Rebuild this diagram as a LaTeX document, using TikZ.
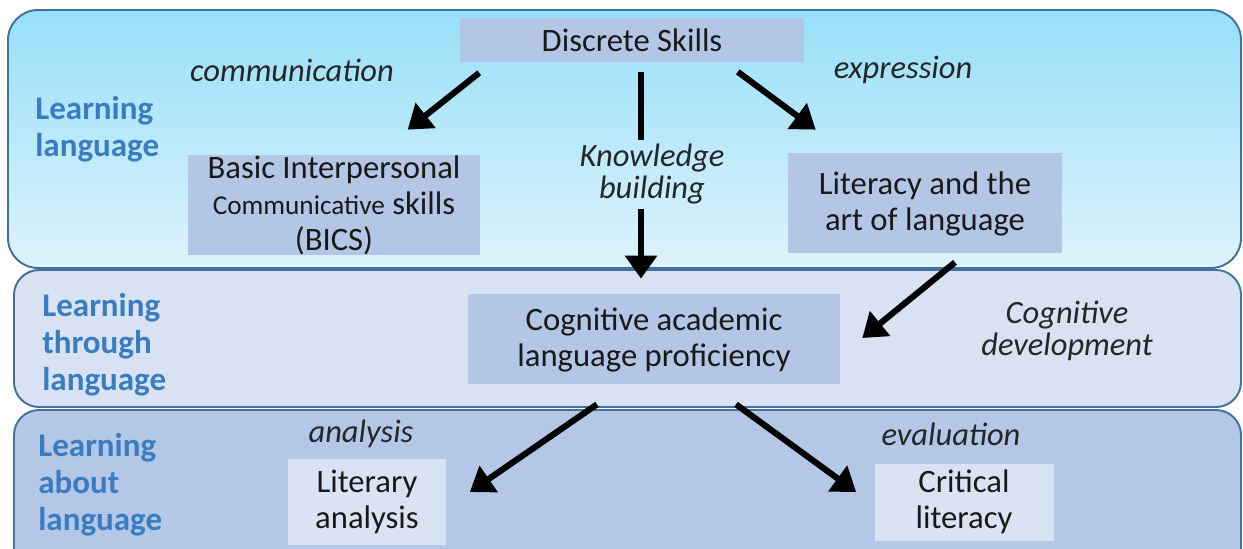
\documentclass[tikz,border=0pt]{standalone}
\usepackage{fontspec}
\setmainfont{Carlito}
\usetikzlibrary{arrows.meta, positioning, shapes}

\definecolor{bandline}{HTML}{41719C}
\definecolor{bandtop}{HTML}{97DFF9}
\definecolor{bandbot}{HTML}{DEF3FC}
\definecolor{bandmid}{HTML}{D9E2F3}
\definecolor{bandlow}{HTML}{B4C7E7}
\definecolor{skillbox}{HTML}{B4C6E6}
\definecolor{skilllight}{HTML}{DAE3F3}
\definecolor{levelblue}{HTML}{3A7CC0}

\begin{document}
\begin{tikzpicture}[x=0.02cm, y=-0.02cm,
		band/.style={draw=bandline, line width=1.1pt, rounded corners=0.6cm},
		skill/.style={fill=skillbox, align=center, inner sep=0pt, text=black!90, font=\fontsize{18.6}{20.5}\selectfont},
		lightskill/.style={skill, fill=skilllight},
		level/.style={text=levelblue, anchor=north west, align=left, inner sep=0pt, font=\bfseries\fontsize{18.8}{21}\selectfont},
		hand/.style={align=center, inner sep=0pt, text=black!85, font=\itshape\fontsize{18.5}{18}\selectfont},
		flow/.style={line width=3.5pt, -{Triangle[length=0.46cm, width=0.62cm]}}]
	\useasboundingbox (0,0) rectangle (1243,548);

	% the three layers
	\draw[band, top color=bandtop, bottom color=bandbot] (8,10) rectangle (1241,268);
	\draw[band, rounded corners=0.5cm, fill=bandmid] (14,270) rectangle (1241,407);
	\draw[band, rounded corners=0.5cm, fill=bandlow] (14,410) rectangle (1241,600);

	\node[level] (learn) at (35,96) {Learning\\language};
	\node[level] (through) at (42,293) {Learning\\through\\language};
	\node[level] (about) at (38,433) {Learning\\about\\language};

	% skills
	\node[skill, minimum width=6.9cm, minimum height=0.9cm] (disc) at (632,40) {Discrete Skills};
	\node[skill, minimum width=5.84cm, minimum height=2cm] (bics) at (334,205)
		{Basic Interpersonal\\{\fontsize{15.5}{21}\selectfont Communicative} skills\\(BICS)};
	\node[skill, minimum width=5.48cm, minimum height=2cm] (lit) at (925,203)
		{\strut Literacy and the\\art of language};
	\node[skill, minimum width=7.44cm, minimum height=1.8cm] (calp) at (654,339)
		{\strut Cognitive academic\\language proficiency};
	\node[lightskill, minimum width=3.18cm, minimum height=1.72cm] (litan) at (367,502) {Literary\\analysis};
	\node[lightskill, minimum width=3.58cm, minimum height=1.54cm] (crit) at (964,502) {Critical\\literacy};

	% labels on the arrows
	\node[hand] (comm) at (292,70) {communication};
	\node[hand] (expr) at (903,70) {expression};
	\node[hand] (know) at (652,174) {Knowledge\\building};
	\node[hand] (cogdev) at (1067,331) {Cognitive\\development};
	\node[hand] (anal) at (361,434) {analysis};
	\node[hand] (eval) at (951,434) {evaluation};

	% arrows
	\draw[flow] ([shift={(20,10)}]disc.south west) -- ([shift={(220,-25)}]bics.north west);
	\draw[line width=3.5pt] ([shift={(9,9)}]disc.south) -- ([shift={(-11,-4)}]know.north);
	\draw[flow] ([shift={(-11,5)}]know.south) -- ([shift={(-13,-15)}]calp.north);
	\draw[flow] ([shift={(-67,9)}]disc.south east) -- ([shift={(28,-23)}]lit.north west);
	\draw[flow] ([shift={(30,9)}]lit.south) -- ([shift={(22,-1)}]calp.east);
	\draw[flow] ([shift={(-57,20)}]calp.south) -- ([shift={(23,-10)}]litan.east);
	\draw[flow] ([shift={(82,20)}]calp.south) -- ([shift={(-18,-10)}]crit.west);
\end{tikzpicture}
\end{document}
